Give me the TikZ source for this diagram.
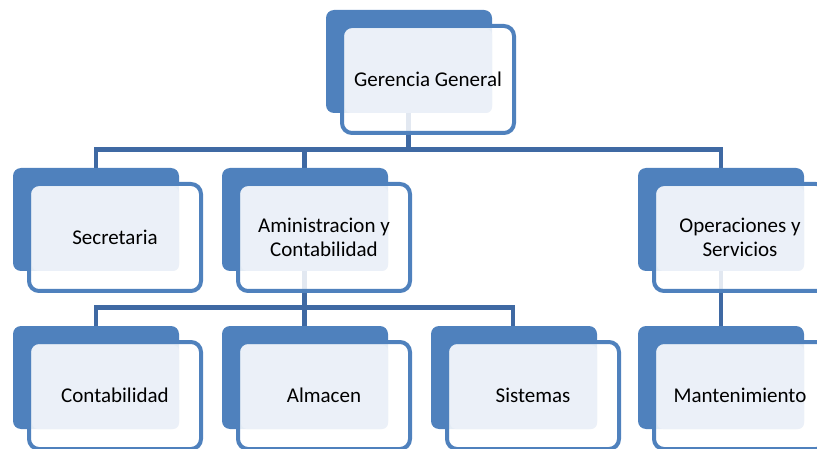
\documentclass[tikz,border=0pt]{standalone}
\usepackage{fontspec}
\setmainfont{Carlito}
\definecolor{acc}{HTML}{4F81BD}
\definecolor{conn}{HTML}{3F69A3}
\definecolor{lite}{HTML}{EBF0F8}
\tikzset{
  backbox/.style={rectangle, rounded corners=8pt, fill=acc, inner sep=0pt, outer sep=0pt, minimum width=166pt, minimum height=103pt},
  frontbox/.style={rectangle, rounded corners=10pt, draw=acc, line width=4pt, fill=white, fill opacity=0.85, inner sep=0pt, outer sep=0pt, minimum width=172pt, minimum height=107pt},
  textbox/.style={rectangle, rounded corners=6pt, fill=lite, inner sep=0pt, outer sep=0pt, minimum width=147pt, minimum height=84pt},
  lbl/.style={font=\fontsize{21}{24}\selectfont, align=center, text=black, inner sep=0pt},
  link/.style={draw=conn, line width=4.6pt}
}
\newcommand{\orgbox}[4]{%
  \node[backbox] (#1b) at (#2+83, #3+51.5) {};
  \node[frontbox] (#1f) at (#2+102, #3+69.5) {};
  \node[textbox] (#1t) at (#2+92.5, #3+61) {};
  \node[lbl] (#1) at (#2+102, #3+69.5) {#4};
}
\begin{document}
\begin{tikzpicture}[x=1pt, y=-1pt]
\useasboundingbox (0,0) rectangle (817,449);
\clip (0,0) rectangle (817,449);
% connector anchor coordinates (top centres of child back boxes)
\coordinate (gB) at (408.5,113);
\coordinate (sT) at (96,168);
\coordinate (aT) at (304.5,168);
\coordinate (oT) at (721,168);
\coordinate (aB) at (304.5,271);
\coordinate (cT) at (96,326);
\coordinate (mT) at (304.5,326);
\coordinate (yT) at (513,326);
\coordinate (opB) at (721,271);
\coordinate (mnT) at (721,326);
% connectors
\draw[link] ([yshift=5pt]gB) -- (408.5,149.8) -| (sT);
\draw[link] (408.5,149.8) -| (aT);
\draw[link] (408.5,149.8) -| (oT);
\draw[link] ([yshift=5pt]aB) -- (304.5,307.5) -| (cT);
\draw[link] (304.5,307.5) -| (mT);
\draw[link] (304.5,307.5) -| (yT);
\draw[link] ([yshift=5pt]opB) -- (mnT);
% boxes
\orgbox{ger}{326}{10}{Gerencia General}
\orgbox{sec}{13}{168}{Secretaria}
\orgbox{adm}{222}{168}{Aministracion y\\Contabilidad}
\orgbox{ope}{638}{168}{Operaciones y\\Servicios}
\orgbox{con}{13}{326}{Contabilidad}
\orgbox{alm}{222}{326}{Almacen}
\orgbox{sis}{431}{326}{Sistemas}
\orgbox{man}{638}{326}{Mantenimiento}
\end{tikzpicture}
\end{document}
